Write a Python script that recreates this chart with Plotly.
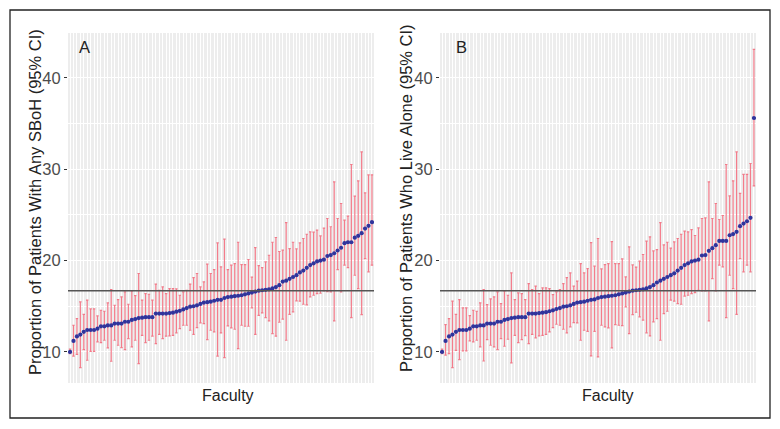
import plotly.graph_objects as go

# ---- Panel A: Proportion of patients with any SBoH (%), sorted by faculty ----
a_est = [10.0, 11.2, 11.7, 11.9, 12.2, 12.4, 12.4, 12.4, 12.55, 12.8,
         12.8, 12.9, 12.9, 13.1, 13.1, 13.1, 13.3, 13.3, 13.5, 13.6,
         13.7, 13.75, 13.8, 13.8, 13.8, 14.2, 14.2, 14.2, 14.2, 14.25,
         14.3, 14.4, 14.5, 14.65, 14.8, 14.95, 15.0, 15.1, 15.25, 15.4,
         15.45, 15.5, 15.6, 15.7, 15.7, 15.9, 16.0, 16.05, 16.1, 16.15,
         16.2, 16.3, 16.4, 16.5, 16.6, 16.7, 16.75, 16.8, 16.85, 16.95,
         17.1, 17.3, 17.7, 17.8, 18.0, 18.2, 18.4, 18.7, 18.9, 19.2,
         19.5, 19.7, 19.9, 20.0, 20.1, 20.5, 20.6, 20.8, 21.1, 21.4,
         21.9, 22.0, 22.0, 22.5, 22.7, 23.0, 23.5, 23.8, 24.2]
a_low = [9.8, 9.53, 9.74, 8.28, 10.26, 9.09, 10.07, 10.07, 11.09, 11.02,
         11.28, 10.44, 8.98, 11.28, 10.73, 10.47, 10.26, 11.46, 10.55, 11.28,
         8.72, 11.82, 11.02, 11.28, 11.72, 10.91, 11.93, 11.46, 11.72, 11.75,
         11.82, 12.08, 12.55, 12.92, 12.92, 12.37, 11.93, 12.66, 13.18, 13.1,
         11.35, 12.37, 12.19, 9.53, 12.08, 9.38, 12.85, 12.63, 12.48, 10.36,
         12.92, 12.81, 12.81, 14.82, 11.93, 14.01, 14.27, 13.76, 13.39, 12.0,
         11.72, 13.25, 13.58, 11.28, 14.12, 14.38, 15.58, 15.55, 15.22, 15.15,
         16.02, 16.2, 16.39, 16.42, 16.68, 16.6, 16.57, 13.39, 19.01, 16.57,
         19.49, 19.23, 13.76, 18.39, 16.93, 14.09, 20.22, 18.76, 19.49]
a_high = [10.3, 12.92, 13.65, 15.47, 14.12, 15.66, 14.71, 14.71, 13.94, 14.56,
          14.45, 15.36, 16.82, 15.11, 15.73, 16.02, 16.57, 15.22, 16.68, 16.17,
          18.58, 15.66, 16.39, 16.31, 15.66, 17.41, 16.75, 17.12, 16.39, 16.93,
          16.93, 16.9, 16.2, 16.57, 16.75, 17.41, 18.14, 18.58, 17.12, 17.66,
          19.6, 18.58, 19.01, 21.93, 19.31, 22.34, 19.01, 19.49, 19.67, 22.0,
          19.56, 19.56, 20.11, 18.18, 21.42, 19.45, 19.23, 19.85, 20.58, 22.0,
          22.52, 20.99, 21.13, 24.16, 21.31, 22.0, 21.28, 21.93, 22.41, 22.88,
          23.14, 23.1, 23.32, 22.7, 23.54, 24.6, 23.7, 28.61, 24.6, 26.24,
          24.42, 24.85, 30.51, 27.04, 28.72, 31.9, 27.41, 29.38, 29.38]

# ---- Panel B: Proportion of patients who live alone (%), sorted by faculty ----
b_est = [10.0, 11.2, 11.7, 11.9, 12.2, 12.4, 12.4, 12.4, 12.55, 12.8,
         12.8, 12.9, 12.9, 13.1, 13.1, 13.1, 13.3, 13.3, 13.5, 13.6,
         13.7, 13.75, 13.8, 13.8, 13.8, 14.2, 14.2, 14.2, 14.25, 14.3,
         14.35, 14.45, 14.55, 14.7, 14.8, 14.95, 15.0, 15.1, 15.25, 15.4,
         15.45, 15.5, 15.6, 15.7, 15.75, 15.9, 16.0, 16.05, 16.1, 16.15,
         16.2, 16.3, 16.4, 16.5, 16.6, 16.7, 16.75, 16.8, 16.85, 16.95,
         17.1, 17.3, 17.6, 17.8, 18.0, 18.2, 18.4, 18.6, 18.9, 19.2,
         19.5, 19.7, 19.9, 20.0, 20.1, 20.55, 20.6, 21.06, 21.35, 21.68,
         22.15, 22.15, 22.15, 22.77, 22.9, 23.14, 23.76, 24.05, 24.3, 24.67,
         35.6]
b_low = [9.8, 9.64, 9.82, 8.28, 10.18, 9.16, 10.11, 10.11, 11.2, 11.09,
         11.28, 10.55, 9.01, 11.35, 10.73, 10.55, 10.26, 11.46, 10.62, 11.39,
         8.8, 11.82, 11.02, 11.35, 11.79, 10.91, 11.93, 11.53, 11.75, 11.82,
         11.93, 12.19, 12.66, 13.03, 12.92, 12.48, 12.08, 12.74, 13.21, 13.18,
         11.28, 12.37, 12.26, 9.56, 12.26, 9.45, 12.92, 12.74, 12.63, 10.44,
         12.99, 12.92, 12.88, 14.93, 12.0, 14.09, 14.34, 13.83, 13.47, 12.08,
         11.75, 13.28, 13.65, 11.28, 14.2, 14.45, 15.66, 15.55, 15.29, 15.22,
         16.1, 16.2, 16.39, 16.5, 16.75, 16.68, 16.68, 13.39, 18.03, 16.68,
         19.49, 19.31, 13.76, 18.39, 16.93, 14.12, 20.22, 18.76, 19.49, 18.76,
         28.18]
b_high = [10.3, 12.99, 13.65, 15.55, 14.12, 15.73, 14.82, 14.82, 13.98, 14.56,
          14.45, 15.36, 16.82, 15.18, 15.8, 16.02, 16.57, 15.29, 16.68, 16.2,
          18.65, 15.73, 16.46, 16.39, 15.73, 17.48, 16.82, 17.19, 16.39, 17.0,
          17.0, 16.93, 16.28, 16.57, 16.82, 17.48, 18.14, 18.65, 17.19, 17.74,
          19.67, 18.65, 19.12, 21.97, 19.38, 22.41, 19.09, 19.56, 19.67, 22.08,
          19.67, 19.67, 20.18, 18.21, 21.5, 19.53, 19.27, 19.93, 20.66, 22.12,
          22.59, 21.06, 21.2, 24.16, 21.72, 22.0, 21.35, 22.04, 22.41, 22.88,
          23.21, 23.14, 23.39, 22.74, 23.58, 24.6, 24.67, 28.61, 24.6, 26.24,
          24.49, 24.93, 30.51, 27.08, 28.72, 31.9, 27.34, 29.42, 29.42, 30.62,
          43.1]

overall_ref = 16.7
y_ticks = [10, 20, 30, 40]
y_minor = [15, 25, 35]
y_range = [6.6, 44.9]

title_a = "Proportion of Patients With Any SBoH (95% CI)"
title_b = "Proportion of Patients Who Live Alone (95% CI)"
x_title = "Faculty"

# page body has an 8px default margin: size the figure to fit the window
OFF = 8
W, H = 780 - OFF, 429 - OFF


def px(sx):
    return (sx - OFF) / W


def py(sy):
    return 1 - (sy - OFF) / H


BAR_COLOR = "rgba(240,80,100,0.75)"
DOT_COLOR = "#30349C"
FONT = "Liberation Sans, Arial, sans-serif"

fig = go.Figure()


def add_panel(est, low, high, xa, ya):
    xs = list(range(1, len(est) + 1))
    fig.add_trace(go.Scatter(
        x=xs, y=est, mode="markers", xaxis=xa, yaxis=ya,
        marker=dict(color=DOT_COLOR, size=4.2, line=dict(width=0)),
        error_y=dict(type="data", symmetric=False,
                     array=[h - e for h, e in zip(high, est)],
                     arrayminus=[e - l for e, l in zip(est, low)],
                     color=BAR_COLOR, thickness=1.2, width=1.2),
        showlegend=False, hoverinfo="skip"))
    return len(xs)


na = add_panel(a_est, a_low, a_high, "x", "y")
nb = add_panel(b_est, b_low, b_high, "x2", "y2")

y_dom = [py(383), py(33)]
xa_dom = [px(68), px(374)]
xb_dom = [px(440), px(756)]

common_x = dict(showgrid=True, gridcolor="white", gridwidth=0.6, dtick=1,
                showticklabels=False, ticks="", zeroline=False,
                showline=False, fixedrange=True)
common_y = dict(range=y_range, tickvals=y_ticks, showgrid=True,
                gridcolor="white", gridwidth=1.1, zeroline=False,
                ticks="outside", ticklen=3, tickcolor="#333333",
                tickfont=dict(family=FONT, size=16.5, color="#4D4D4D"),
                minor=dict(tickvals=y_minor, showgrid=True,
                           gridcolor="white", gridwidth=0.5, ticks=""),
                showline=False, domain=y_dom)

fig.update_layout(
    width=W, height=H, margin=dict(l=0, r=0, t=0, b=0),
    paper_bgcolor="white", plot_bgcolor="#EDEDED",
    font=dict(family=FONT, color="#222222"),
    xaxis=dict(domain=xa_dom, range=[0.4, na + 0.6], **common_x),
    xaxis2=dict(domain=xb_dom, range=[0.4, nb + 0.6], **common_x),
    yaxis=dict(anchor="x", **common_y),
    yaxis2=dict(anchor="x2", **common_y),
)

# overall reference lines
for xa, ya in (("x", "y"), ("x2", "y2")):
    fig.add_shape(type="line", xref=f"{xa} domain", yref=ya,
                  x0=0, x1=1, y0=overall_ref, y1=overall_ref,
                  line=dict(color="#555555", width=1.4))

# outer frame
fig.add_shape(type="rect", xref="paper", yref="paper",
              x0=px(10), x1=px(770), y0=py(418), y1=py(10),
              line=dict(color="#222222", width=1.3), layer="above")

ann = [
    dict(text="A", x=px(84), y=py(47), size=16.5, angle=0),
    dict(text="B", x=px(461), y=py(47), size=16.5, angle=0),
    dict(text=x_title, x=px(228), y=py(395), size=16, angle=0),
    dict(text=x_title, x=px(608), y=py(395), size=16, angle=0),
    dict(text=title_a, x=px(35), y=py(202), size=16.5, angle=-90),
    dict(text=title_b, x=px(406), y=py(198), size=16.5, angle=-90),
]
for a in ann:
    fig.add_annotation(text=a["text"], x=a["x"], y=a["y"], xref="paper",
                       yref="paper", showarrow=False, textangle=a["angle"],
                       font=dict(family=FONT, size=a["size"], color="#222222"),
                       xanchor="center", yanchor="middle")

fig.write_html("out.html")
